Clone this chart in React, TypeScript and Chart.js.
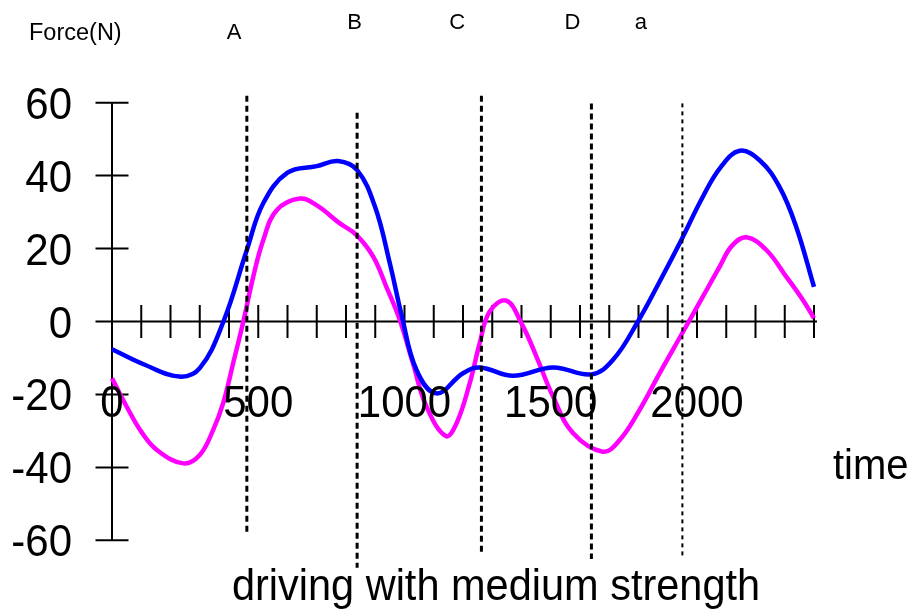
import React, { useEffect, useRef } from 'react';
import { Chart, registerables } from 'chart.js';

Chart.register(...registerables);

// ---- data ----
const timeTicks = [0, 100, 200, 300, 400, 500, 600, 700, 800, 900, 1000, 1100, 1200, 1300, 1400, 1500, 1600, 1700, 1800, 1900, 2000, 2100, 2200, 2300, 2400];
const timeLabels = [0, 500, 1000, 1500, 2000];
const forceTicks = [60, 40, 20, 0, -20, -40, -60];

const blueTime = [0, 110, 230, 300, 381, 461, 517, 600, 700, 773, 838, 899, 950, 990, 1041, 1109, 1200, 1257, 1371, 1508, 1639, 1713, 1798, 1872, 1946, 2020, 2080, 2146, 2214, 2282, 2339, 2400];
const blueForce = [-7.6, -11.8, -15.1, -12.8, 0, 19.6, 32.4, 40.8, 42.6, 44, 41.5, 31.5, 15.9, 1.8, -13.3, -19.7, -14.2, -12.6, -14.9, -12.6, -14.5, -10.5, 0, 10.9, 22.3, 34.2, 42.2, 46.8, 44.2, 36.9, 26.0, 9.5];

const magentaTime = [0, 50, 100, 153, 244, 300, 346, 380, 414, 449, 483, 517, 563, 642, 699, 779, 836, 893, 938, 984, 1029, 1075, 1141, 1178, 1223, 1257, 1291, 1348, 1400, 1451, 1508, 1576, 1678, 1736, 1804, 1872, 1946, 2020, 2077, 2120, 2169, 2237, 2305, 2362, 2400];
const magentaForce = [-15.6, -23.3, -30.2, -35.2, -38.9, -36.6, -29.7, -22.4, -11.5, 0, 12.3, 22.3, 30.5, 33.7, 31.9, 26.9, 23.7, 17.8, 9.5, 0.4, -11.5, -23.3, -31.4, -27.9, -16.9, -6, 2.7, 5.7, -0.5, -9.6, -20.6, -30.6, -35.7, -32.5, -24.2, -14.2, -3.7, 6.8, 15, 20.8, 23.1, 19.6, 12.3, 5.9, 0.9];

const markerNames = ['A', 'B', 'C', 'D', 'a'];
const markerTime = [461, 838, 1263, 1639, 1950];
const markerTop = [61.9, 57.2, 61.9, 59.8, 59.8];
const markerBottom = [-58.5, -67.5, -63.1, -65.1, -64.4];
const markerLabelTime = [417, 829, 1180, 1574, 1808];
const markerLabelForce = [77.4, 80.3, 80.3, 80.3, 80.3];

const yAxisTitle = 'Force(N)';
const xAxisTitle = 'time';
const chartTitle = 'driving with medium strength';

const FONT = "'Liberation Sans', Arial, Helvetica, sans-serif";

function drawText(ctx: CanvasRenderingContext2D, text: string, x: number, y: number, size: number, align: CanvasTextAlign, sy = 1) {
  ctx.save();
  ctx.translate(x, y);
  ctx.scale(1, sy);
  ctx.font = `${size}px ${FONT}`;
  ctx.textAlign = align;
  ctx.textBaseline = 'alphabetic';
  ctx.fillStyle = '#000';
  ctx.fillText(text, 0, 0);
  ctx.restore();
}

const axesPlugin = {
  id: 'customAxes',
  beforeDatasetsDraw(chart: any) {
    const { ctx, scales } = chart;
    const x = scales.x, y = scales.y;
    const x0 = x.getPixelForValue(0);
    const y0 = y.getPixelForValue(0);
    ctx.save();
    ctx.strokeStyle = '#000';
    ctx.lineWidth = 2;
    ctx.beginPath();
    ctx.moveTo(x0, y.getPixelForValue(forceTicks[0]));
    ctx.lineTo(x0, y.getPixelForValue(forceTicks[forceTicks.length - 1]));
    forceTicks.forEach((v) => {
      const py = y.getPixelForValue(v);
      ctx.moveTo(x0 - 16.5, py);
      ctx.lineTo(x0 + 16.5, py);
    });
    ctx.moveTo(x0 - 16.5, y0);
    ctx.lineTo(x.getPixelForValue(timeTicks[timeTicks.length - 1]) + 3, y0);
    timeTicks.forEach((t) => {
      const px = x.getPixelForValue(t);
      ctx.moveTo(px, y0 - 16.5);
      ctx.lineTo(px, y0 + 16.5);
    });
    ctx.stroke();
    ctx.restore();
  },
  afterDatasetsDraw(chart: any) {
    const { ctx, scales } = chart;
    const x = scales.x, y = scales.y;
    const x0 = x.getPixelForValue(0);
    const y0 = y.getPixelForValue(0);
    forceTicks.forEach((v) => {
      drawText(ctx, String(v), x0 - 40, y.getPixelForValue(v) + 16, 42, 'right', 1.07);
    });
    timeLabels.forEach((t) => {
      drawText(ctx, String(t), x.getPixelForValue(t), y0 + 95, 42, 'center', 1.07);
    });
    markerNames.forEach((n, i) => {
      drawText(ctx, n, x.getPixelForValue(markerLabelTime[i]), y.getPixelForValue(markerLabelForce[i]), 22, 'center');
    });
    drawText(ctx, yAxisTitle, 29, 40, 23.5, 'left');
    drawText(ctx, xAxisTitle, 833, 479, 40, 'left', 1.07);
    drawText(ctx, chartTitle, 496, 600, 41.5, 'center', 1.07);
  },
};

export default function App() {
  const ref = useRef<HTMLCanvasElement | null>(null);
  useEffect(() => {
    document.body.style.margin = '0';
    const canvas = ref.current;
    if (!canvas) return;
    const curve = (t: number[], f: number[], color: string) => ({
      data: t.map((v, i) => ({ x: v, y: f[i] })),
      borderColor: color,
      borderWidth: 4.5,
      pointRadius: 0,
      fill: false,
      tension: 0.4,
      clip: false as any,
      order: 1,
    });
    const markers = markerNames.map((n, i) => ({
      label: n,
      data: [
        { x: markerTime[i], y: markerTop[i] },
        { x: markerTime[i], y: markerBottom[i] },
      ],
      borderColor: '#000',
      borderWidth: n === 'a' ? 2 : 3,
      borderDash: n === 'a' ? [4, 4] : [6, 4],
      pointRadius: 0,
      fill: false,
      tension: 0,
      clip: false as any,
      order: 0,
    }));
    const chart = new Chart(canvas, {
      type: 'line',
      data: {
        datasets: [
          curve(blueTime, blueForce, '#0000ff'),
          curve(magentaTime, magentaForce, '#ff00ff'),
          ...markers,
        ] as any,
      },
      options: {
        animation: false,
        responsive: false,
        events: [],
        layout: { padding: { left: 112, right: 97, top: 37, bottom: 4 } },
        plugins: { legend: { display: false }, tooltip: { enabled: false }, title: { display: false } },
        scales: {
          x: { type: 'linear', min: 0, max: 2400, display: false },
          y: { type: 'linear', min: -78, max: 78, display: false },
        },
      },
      plugins: [axesPlugin],
    });
    return () => chart.destroy();
  }, []);
  return (
    <div style={{ width: 911, height: 610, background: '#fff' }}>
      <canvas ref={ref} width={911} height={610} style={{ display: 'block' }} />
    </div>
  );
}
